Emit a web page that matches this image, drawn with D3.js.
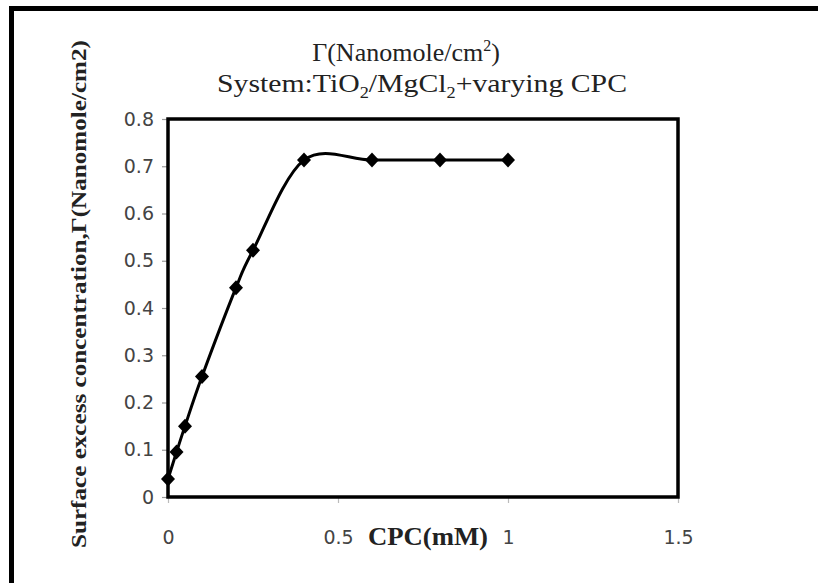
<!DOCTYPE html>
<html>
<head>
<meta charset="utf-8">
<script src="https://cdn.jsdelivr.net/npm/d3@7"></script>
<style>
  html, body { margin: 0; padding: 0; background: #fff; }
  svg { display: block; }
</style>
</head>
<body>
<svg id="chart" width="818" height="583"></svg>
<script>
// CPC concentration (mM) and surface excess concentration Γ (nanomole/cm²)
const cpc = [0, 0.025, 0.05, 0.1, 0.2, 0.25, 0.4, 0.6, 0.8, 1.0];
const gamma = [0.038, 0.095, 0.15, 0.255, 0.443, 0.522, 0.713, 0.713, 0.713, 0.713];
const xTicks = [0, 0.5, 1, 1.5];
const yTicks = [0, 0.1, 0.2, 0.3, 0.4, 0.5, 0.6, 0.7, 0.8];

const svg = d3.select("#chart");
const W = 818, H = 583;
const plot = { left: 168, right: 678, top: 119, bottom: 497 };

const x = d3.scaleLinear().domain([0, 1.5]).range([plot.left, plot.right]);
const y = d3.scaleLinear().domain([0, 0.8]).range([plot.bottom, plot.top]);

// outer frame (top and left edges)
svg.append("path")
  .attr("d", `M11.5,${H} L11.5,8.5 L${W},8.5`)
  .attr("fill", "none").attr("stroke", "#000").attr("stroke-width", 5);

// y axis ticks and labels
const yAxis = d3.axisLeft(y).tickValues(yTicks).tickSize(6).tickPadding(8)
  .tickFormat(d => d === 0 ? "0" : d3.format(".1f")(d));
const gy = svg.append("g").attr("transform", `translate(${plot.left},0)`).call(yAxis);
gy.select(".domain").remove();
gy.selectAll(".tick line").attr("stroke", "#999").attr("stroke-width", 1.2);
gy.selectAll(".tick text")
  .attr("font-family", "DejaVu Sans, Verdana, sans-serif")
  .attr("font-size", 19).attr("fill", "#444");

// x axis ticks and labels
const xAxis = d3.axisBottom(x).tickValues(xTicks).tickSize(6).tickPadding(28)
  .tickFormat(d => d === 0 ? "0" : d3.format("~g")(d));
const gx = svg.append("g").attr("transform", `translate(0,${plot.bottom})`).call(xAxis);
gx.select(".domain").remove();
gx.selectAll(".tick line").attr("stroke", "#bbb").attr("stroke-width", 1.2);
gx.selectAll(".tick text")
  .attr("font-family", "DejaVu Sans, Verdana, sans-serif")
  .attr("font-size", 19).attr("fill", "#444");

// plot area frame
svg.append("rect")
  .attr("x", plot.left).attr("y", plot.top)
  .attr("width", plot.right - plot.left).attr("height", plot.bottom - plot.top)
  .attr("fill", "none").attr("stroke", "#000").attr("stroke-width", 3.5);

// smoothed data line
const pts = cpc.map((c, i) => [c, gamma[i]]);
const line = d3.line().x(d => x(d[0])).y(d => y(d[1])).curve(d3.curveCatmullRom.alpha(0));
svg.append("path").datum(pts)
  .attr("d", line)
  .attr("fill", "none").attr("stroke", "#000").attr("stroke-width", 3);

// diamond markers
const diamond = "M0,-7.5L7,0L0,7.5L-7,0Z";
svg.append("g").selectAll("path").data(pts).join("path")
  .attr("d", diamond)
  .attr("transform", d => `translate(${x(d[0])},${y(d[1])})`)
  .attr("fill", "#000");

// title
const title = svg.append("g")
  .attr("font-family", "Liberation Serif, Times New Roman, serif")
  .attr("fill", "#222").attr("text-anchor", "middle");
const t1 = title.append("text").attr("x", 406).attr("y", 61).attr("font-size", 26);
t1.append("tspan").text("Γ(Nanomole/cm");
t1.append("tspan").attr("font-size", 16).attr("dy", -10).text("2");
t1.append("tspan").attr("dy", 10).text(")");
const t2 = title.append("text").attr("x", 422).attr("y", 92).attr("font-size", 26)
  .attr("textLength", 410).attr("lengthAdjust", "spacingAndGlyphs");
t2.append("tspan").text("System:TiO");
t2.append("tspan").attr("font-size", 16).attr("dy", 6).text("2");
t2.append("tspan").attr("dy", -6).text("/MgCl");
t2.append("tspan").attr("font-size", 16).attr("dy", 6).text("2");
t2.append("tspan").attr("dy", -6).text("+varying CPC");

// x axis title
svg.append("text")
  .attr("x", 428).attr("y", 545)
  .attr("text-anchor", "middle")
  .attr("font-family", "Liberation Serif, Times New Roman, serif")
  .attr("font-weight", "bold").attr("font-size", 25).attr("fill", "#222")
  .attr("textLength", 120).attr("lengthAdjust", "spacingAndGlyphs")
  .text("CPC(mM)");

// y axis title
svg.append("text")
  .attr("transform", "translate(86,294) rotate(-90)")
  .attr("text-anchor", "middle")
  .attr("font-family", "Liberation Serif, Times New Roman, serif")
  .attr("font-weight", "bold").attr("font-size", 21).attr("fill", "#222")
  .attr("textLength", 508).attr("lengthAdjust", "spacingAndGlyphs")
  .text("Surface excess concentration,Γ(Nanomole/cm2)");
</script>
</body>
</html>
